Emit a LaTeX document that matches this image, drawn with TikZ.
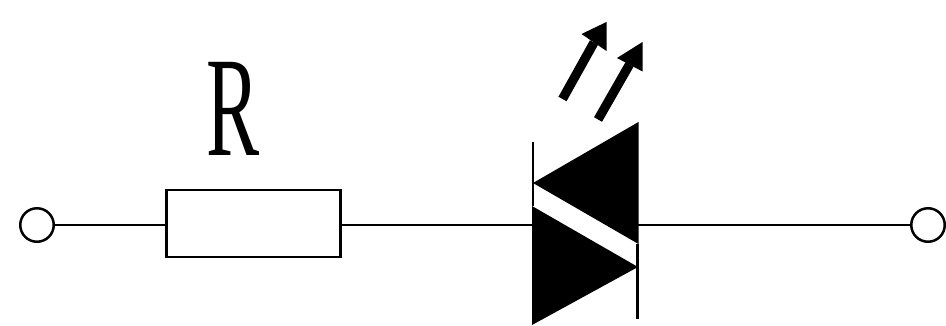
\documentclass[tikz,border=0pt]{standalone}
\usepackage{fontspec}
\setmainfont{Liberation Serif}
\tikzset{
	wire/.style={line width=0.05cm, color=black},
	terminal/.style={draw, circle, line width=0.05cm, minimum size=0.67cm, inner sep=0pt},
	resistor/.style={draw, line width=0.05cm, minimum width=3.48cm, minimum height=1.34cm, inner sep=0pt},
	rayline/.style={line width=0.185cm},
}
\begin{document}
\begin{tikzpicture}[x=0.02cm, y=0.02cm]
			%%%%% START %%%%%
			\useasboundingbox (0, 0) rectangle (946, 325);
			
			\node[terminal] (termL) at (37, 100) {};
			\node[terminal] (termR) at (928, 100) {};
			\node[resistor] (resbox) at (253.7, 101.3) {};
			\node[xscale=0.56, font=\fontsize{81}{81}\selectfont] (reslabel) at (233.5, 216) {R};
			
			\coordinate (anode) at (533, 100);
			\coordinate (cathode) at (637.5, 100);
			
			\draw[wire] (termL) -- (resbox.west |- termL);
			\draw[wire] (resbox.east |- termR) -- (anode);
			\draw[wire] (cathode) -- (termR);
			
			\fill (533, 142) -- (638.5, 203) -- (638.5, 81) -- cycle;
			\fill (638, 58) -- (532, 119) -- (532, 0) -- cycle;
			\draw[wire] (533, 183) -- (533, 119);
			\draw[wire] (637.5, 81) -- (637.5, 6);
			
			\draw[rayline] (562.5, 226) -- (594, 282.5);
			\fill (606.5, 303) -- (581.5, 291) -- (606.5, 274) -- cycle;
			\draw[rayline] (598, 205.5) -- (629.5, 260.5);
			\fill (642.5, 283) -- (617, 267) -- (642.5, 253.5) -- cycle;
			%%%%% END %%%%%
		\end{tikzpicture}
\end{document}
